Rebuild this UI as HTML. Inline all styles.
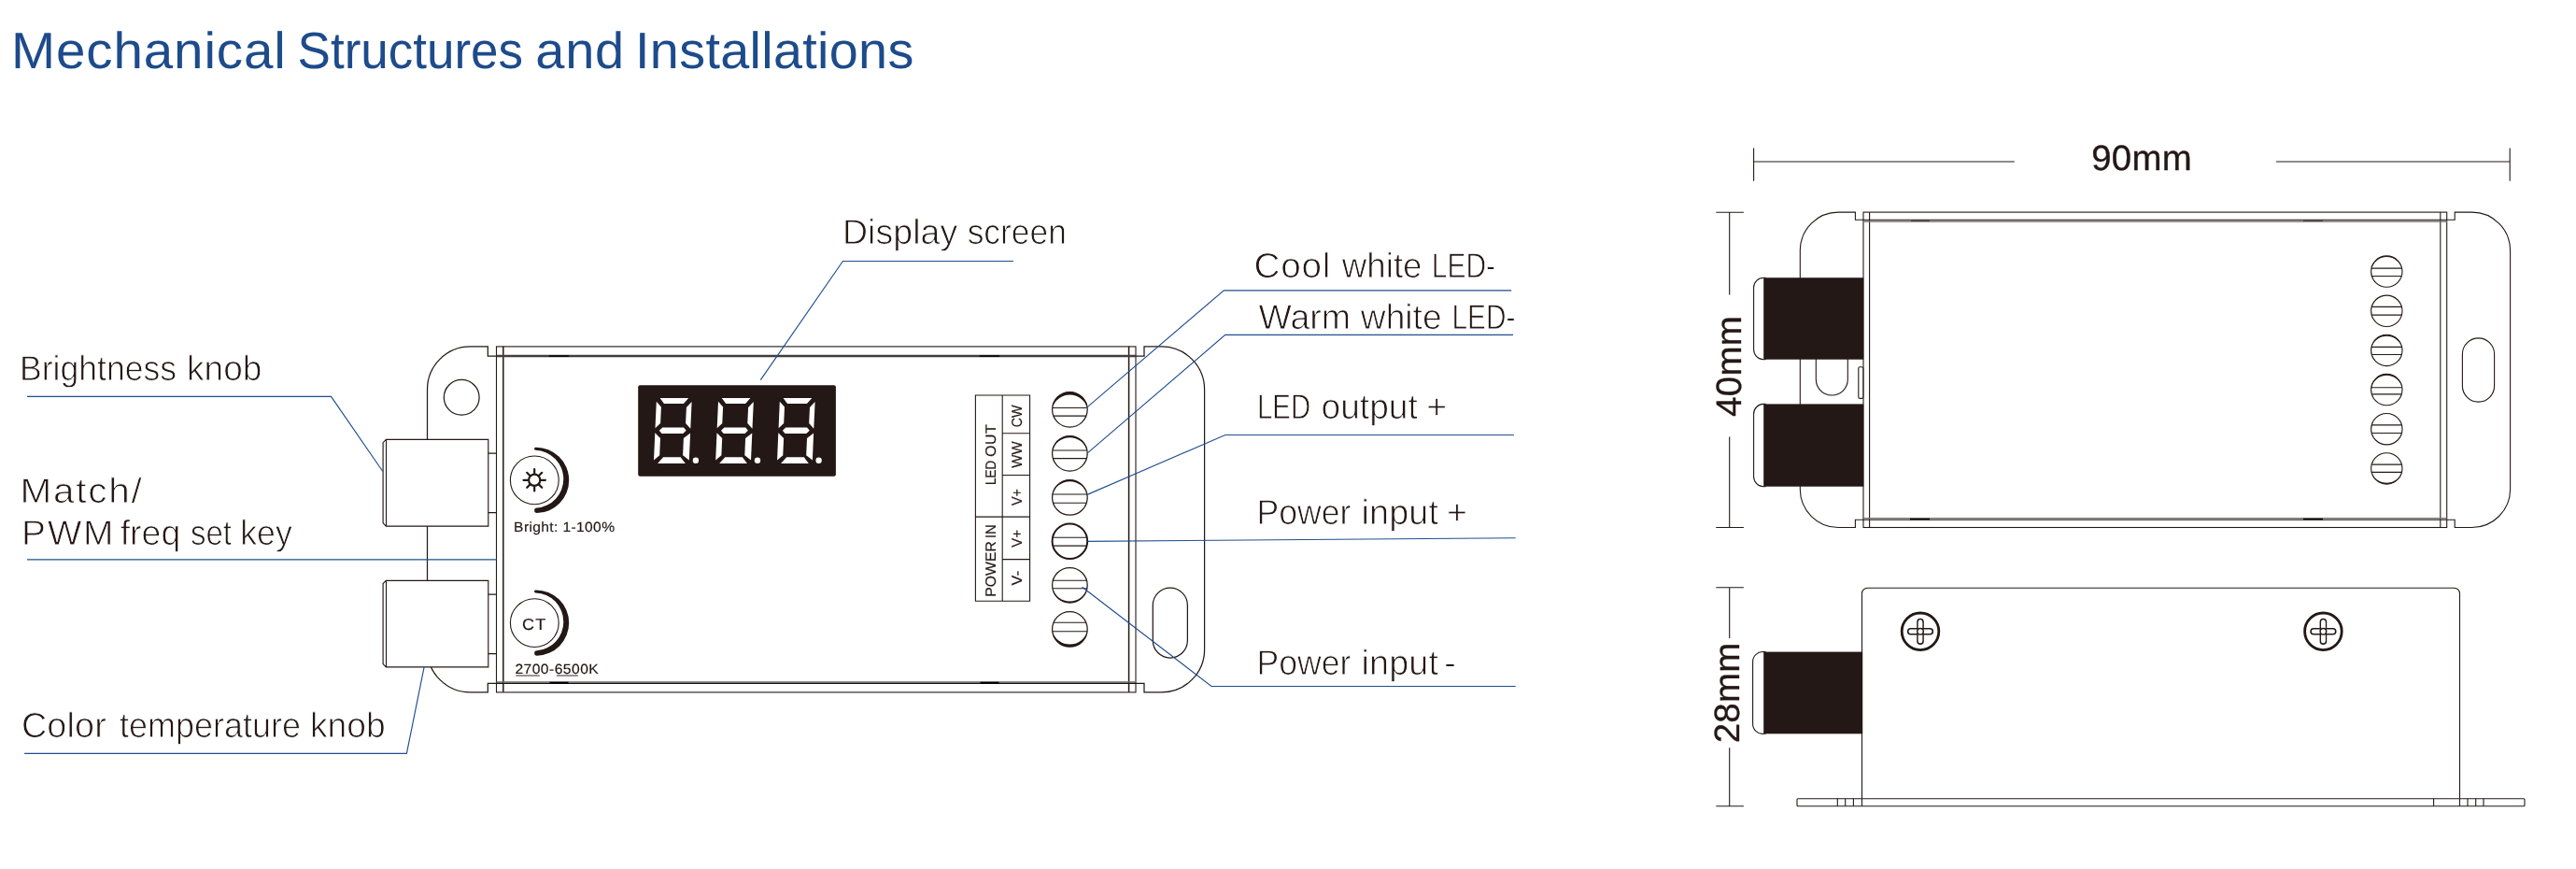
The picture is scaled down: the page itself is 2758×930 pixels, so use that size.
<!DOCTYPE html>
<html lang="en"><head><meta charset="utf-8"><title>Mechanical Structures and Installations</title>
<style>
html,body{margin:0;padding:0;background:#fff;}
body{width:2758px;height:930px;overflow:hidden;}
svg{display:block;}
text{font-family:"Liberation Sans",sans-serif;text-rendering:geometricPrecision;}
.ln{fill:none;stroke:#231815;stroke-width:1.25;}
.l1{fill:none;stroke:#231815;stroke-width:1.1;}
.l2{fill:none;stroke:#231815;stroke-width:1.9;}
.wf{fill:#fff;stroke:#231815;stroke-width:1.15;}
.bl{fill:none;stroke:#1f4e90;stroke-width:1.15;}
.lab{fill:#231815;stroke:#fff;stroke-width:0.85px;}
.sm{fill:#231815;stroke:#231815;stroke-width:0.18px;}
.dim{fill:#231815;stroke:#231815;stroke-width:0.35px;}
</style></head><body>
<svg width="2758" height="930" viewBox="0 0 2758 930">
<defs><filter id="n" x="0" y="0" width="2758" height="930" filterUnits="userSpaceOnUse"><feOffset dx="0" dy="0" color-interpolation-filters="sRGB"/></filter></defs>
<g filter="url(#n)">
<rect width="2758" height="930" fill="#fff"/>
<text transform="translate(16.70 73.40) scale(1.0285 1)" x="-4.54" y="0" font-size="55.00" letter-spacing="0.831" fill="#1d4b8b">Mechanical</text>
<text transform="translate(321.00 73.40) scale(0.9632 1)" x="-2.48" y="0" font-size="55.00" letter-spacing="0.000" fill="#1d4b8b">Structures</text>
<text transform="translate(575.70 73.40) scale(1.0172 1)" x="-2.34" y="0" font-size="55.00" letter-spacing="0.728" fill="#1d4b8b">and</text>
<text transform="translate(685.20 73.40) scale(1.0136 1)" x="-5.09" y="0" font-size="55.00" letter-spacing="0.317" fill="#1d4b8b">Installations</text>
<text class="lab" transform="translate(23.90 406.50) scale(0.9486 1)" x="-3.09" y="0" font-size="37.50" letter-spacing="0.000">Brightness</text>
<text class="lab" transform="translate(202.50 406.50) scale(0.9877 1)" x="-2.53" y="0" font-size="37.50" letter-spacing="0.000">knob</text>
<text class="lab" transform="translate(24.80 538.40) scale(1.0799 1)" x="-3.09" y="0" font-size="37.50" letter-spacing="1.620">Match/</text>
<text class="lab" transform="translate(26.30 582.80) scale(1.0380 1)" x="-3.09" y="0" font-size="37.50" letter-spacing="1.564">PWM</text>
<text class="lab" x="128.64" y="582.80" font-size="37.50" letter-spacing="0.000">freq</text>
<text class="lab" transform="translate(204.90 582.80) scale(0.8796 1)" x="-1.03" y="0" font-size="37.50" letter-spacing="0.000">set</text>
<text class="lab" transform="translate(259.60 582.80) scale(0.9517 1)" x="-2.53" y="0" font-size="37.50" letter-spacing="0.000">key</text>
<text class="lab" transform="translate(24.80 788.90) scale(1.0075 1)" x="-1.88" y="0" font-size="37.50" letter-spacing="0.163">Color</text>
<text class="lab" transform="translate(128.60 788.90) scale(0.9596 1)" x="-0.56" y="0" font-size="37.50" letter-spacing="0.000">temperature</text>
<text class="lab" transform="translate(334.50 788.90) scale(0.9929 1)" x="-2.53" y="0" font-size="37.50" letter-spacing="0.000">knob</text>
<text class="lab" x="901.91" y="260.90" font-size="37.50" letter-spacing="0.065">Display</text>
<text class="lab" transform="translate(1036.60 260.90) scale(0.9438 1)" x="-1.03" y="0" font-size="37.50" letter-spacing="0.000">screen</text>
<text class="lab" transform="translate(1344.40 296.70) scale(1.0320 1)" x="-1.88" y="0" font-size="37.50" letter-spacing="0.751">Cool</text>
<text class="lab" transform="translate(1436.80 296.70) scale(0.9793 1)" x="-0.00" y="0" font-size="37.50" letter-spacing="0.000">white</text>
<text class="lab" transform="translate(1535.20 296.70) scale(0.7988 1)" x="-3.09" y="0" font-size="37.50" letter-spacing="0.000">LED-</text>
<text class="lab" x="1347.51" y="351.70" font-size="37.50" letter-spacing="0.000">Warm</text>
<text class="lab" transform="translate(1456.80 351.70) scale(0.9910 1)" x="-0.00" y="0" font-size="37.50" letter-spacing="0.000">white</text>
<text class="lab" transform="translate(1556.90 351.70) scale(0.7950 1)" x="-3.09" y="0" font-size="37.50" letter-spacing="0.000">LED-</text>
<text class="lab" transform="translate(1348.40 448.30) scale(0.7846 1)" x="-3.09" y="0" font-size="37.50" letter-spacing="0.000">LED</text>
<text class="lab" transform="translate(1416.10 448.30) scale(0.9905 1)" x="-1.59" y="0" font-size="37.50" letter-spacing="0.000">output</text>
<text class="lab" x="1527.23" y="448.30" font-size="37.50" letter-spacing="0.000">+</text>
<text class="lab" transform="translate(1348.40 560.70) scale(0.9488 1)" x="-3.09" y="0" font-size="37.50" letter-spacing="0.000">Power</text>
<text class="lab" transform="translate(1460.10 560.70) scale(1.0066 1)" x="-2.53" y="0" font-size="37.50" letter-spacing="0.128">input</text>
<text class="lab" x="1548.93" y="560.70" font-size="37.50" letter-spacing="0.000">+</text>
<text class="lab" transform="translate(1348.40 722.30) scale(0.9488 1)" x="-3.09" y="0" font-size="37.50" letter-spacing="0.000">Power</text>
<text class="lab" transform="translate(1460.10 722.30) scale(1.0066 1)" x="-2.53" y="0" font-size="37.50" letter-spacing="0.128">input</text>
<text class="lab" x="1546.17" y="722.30" font-size="37.50" letter-spacing="0.000">-</text>
<path class="ln" d="M531.5 381H522.3V370.9H503.5A46 46 0 0 0 457.5 416.9V694.9A46 46 0 0 0 503.5 740.9H522.3V731.4H531.5"/>
<path class="ln" d="M1216 381H1225V370.9H1243.6A46 46 0 0 1 1289.6 416.9V694.9A46 46 0 0 1 1243.6 740.9H1225V731.4H1216"/>
<circle class="ln" cx="494.2" cy="425.3" r="18.9"/>
<rect class="ln" x="1234.3" y="629.2" width="37.1" height="74.8" rx="18.55"/>
<rect class="l1" x="531.5" y="370.9" width="684.5" height="370"/>
<path d="M538.8 370.8V740.8M1208.6 370.8V740.8" fill="none" stroke="#231815" stroke-width="1.5"/>
<path d="M531.5 381H1216" fill="none" stroke="#423e3d" stroke-width="2.7"/>
<path d="M531.5 730H1216" fill="none" stroke="#6e6a69" stroke-width="1.7"/>
<path d="M531.5 731.4H1216" fill="none" stroke="#1a1311" stroke-width="1.1"/>
<path d="M588.5 381H608.5M1049.5 381H1069.5" stroke="#000" stroke-width="1.7" stroke-linecap="round" fill="none"/>
<path d="M588.5 730.8H608.5M1049.5 730.8H1069.5" stroke="#000" stroke-width="1.9" fill="none"/>
<path class="wf" d="M413.4 470.4H522.8V563.1H413.4L410.1 559.8V473.7Z"/>
<path class="l1" d="M413.5 470.4V563.1"/>
<path class="ln" d="M522.8 485.1H531.5M522.8 548.6H531.5"/>
<path class="wf" d="M413.4 621.3H522.8V713.9H413.4L410.1 710.6V624.6Z"/>
<path class="l1" d="M413.5 621.3V713.9"/>
<path class="ln" d="M522.8 636.0H531.5M522.8 699.5H531.5"/>
<circle class="l1" cx="572.3" cy="513.9" r="25.9"/>
<path fill="#231815" d="M573.4 478.71A35.2 35.2 0 0 1 609.2 513.90A35.2 35.2 0 0 1 574.9 549.09A2.75 2.75 0 0 1 574.9 543.59A31 31 0 0 0 603.3 512.70A31 31 0 0 0 573.4 481.72A1.51 1.51 0 0 1 573.4 478.71Z"/>
<circle class="l1" cx="572.3" cy="666.6" r="25.9"/>
<path fill="#231815" d="M573.4 631.41A35.2 35.2 0 0 1 609.2 666.60A35.2 35.2 0 0 1 574.9 701.79A2.75 2.75 0 0 1 574.9 696.29A31 31 0 0 0 603.3 665.40A31 31 0 0 0 573.4 634.42A1.51 1.51 0 0 1 573.4 631.41Z"/>
<circle cx="572.2" cy="513.8" r="6.1" fill="none" stroke="#231815" stroke-width="2.2"/>
<path d="M579.40 513.80L583.90 513.80M577.29 518.89L580.19 521.79M572.20 521.00L572.20 525.50M567.11 518.89L564.21 521.79M565.00 513.80L560.50 513.80M567.11 508.71L564.21 505.81M572.20 506.60L572.20 502.10M577.29 508.71L580.19 505.81" fill="none" stroke="#231815" stroke-width="2.2" stroke-linecap="round"/>
<text class="sm" transform="translate(559.90 673.60) scale(1.0537 1)" x="-0.86" y="0" font-size="17.20" letter-spacing="1.105">CT</text>
<text class="sm" transform="translate(551.40 568.60) scale(1.0482 1)" x="-1.23" y="0" font-size="14.90" letter-spacing="0.342">Bright: 1-100%</text>
<text class="sm" transform="translate(552.20 720.60) scale(1.0506 1)" x="-0.75" y="0" font-size="14.90" letter-spacing="0.430">2700-6500K</text>
<path d="M552.2 723H577.8M595.9 723H618.9" fill="none" stroke="#77706d" stroke-width="1.6"/>
<rect x="683.2" y="412.3" width="211.7" height="97.5" rx="2" fill="#231815"/>
<polygon fill="#fff" points="706.6,425.9 737.2,425.9 731.9,432.0 711.0,432.0"/>
<polygon fill="#fff" points="702.8,429.7 707.9,435.4 707.1,453.1 701.5,458.2"/>
<polygon fill="#fff" points="740.6,430.1 739.3,458.8 734.1,453.1 734.9,436.0"/>
<polygon fill="#fff" points="705.8,460.7 709.3,457.5 732.0,457.5 734.7,460.7 731.3,463.9 708.5,463.9"/>
<polygon fill="#fff" points="701.3,463.2 707.0,468.9 706.2,487.3 700.0,492.4"/>
<polygon fill="#fff" points="739.1,463.5 737.8,492.4 731.1,487.3 731.9,468.9"/>
<polygon fill="#fff" points="704.1,495.9 733.8,495.9 728.7,489.2 710.1,489.2"/>
<circle cx="744.9" cy="492.7" r="3.2" fill="#fff"/>
<polygon fill="#fff" points="772.8,425.9 803.4,425.9 798.1,432.0 777.2,432.0"/>
<polygon fill="#fff" points="769.0,429.7 774.1,435.4 773.3,453.1 767.7,458.2"/>
<polygon fill="#fff" points="806.8,430.1 805.5,458.8 800.3,453.1 801.1,436.0"/>
<polygon fill="#fff" points="772.0,460.7 775.5,457.5 798.2,457.5 800.9,460.7 797.5,463.9 774.7,463.9"/>
<polygon fill="#fff" points="767.5,463.2 773.2,468.9 772.4,487.3 766.2,492.4"/>
<polygon fill="#fff" points="805.3,463.5 804.0,492.4 797.3,487.3 798.1,468.9"/>
<polygon fill="#fff" points="770.2,495.9 799.9,495.9 794.9,489.2 776.3,489.2"/>
<circle cx="811.0" cy="492.7" r="3.2" fill="#fff"/>
<polygon fill="#fff" points="838.6,425.9 869.3,425.9 863.9,432.0 843.0,432.0"/>
<polygon fill="#fff" points="834.8,429.7 840.0,435.4 839.2,453.1 833.6,458.2"/>
<polygon fill="#fff" points="872.6,430.1 871.3,458.8 866.2,453.1 867.0,436.0"/>
<polygon fill="#fff" points="837.9,460.7 841.3,457.5 864.0,457.5 866.8,460.7 863.3,463.9 840.5,463.9"/>
<polygon fill="#fff" points="833.3,463.2 839.1,468.9 838.3,487.3 832.1,492.4"/>
<polygon fill="#fff" points="871.1,463.5 869.9,492.4 863.2,487.3 864.0,468.9"/>
<polygon fill="#fff" points="836.1,495.9 865.8,495.9 860.8,489.2 842.2,489.2"/>
<circle cx="876.6" cy="492.7" r="3.2" fill="#fff"/>
<path class="l1" d="M1044.4 423H1102.6V643.2H1044.4ZM1073.2 423V643.2M1073.2 463.8H1102.6M1073.2 508.5H1102.6M1044.4 553.1H1102.6M1073.2 598.6H1102.6"/>
<text class="sm" transform="translate(1066.00 518.00) rotate(-90) scale(0.8653 1)" x="-1.29" y="0" font-size="15.60" letter-spacing="0.000">LED</text>
<text class="sm" transform="translate(1066.00 488.30) rotate(-90) scale(1.0295 1)" x="-0.74" y="0" font-size="15.60" letter-spacing="0.456">OUT</text>
<text class="sm" transform="translate(1066.00 637.50) rotate(-90) scale(1.0061 1)" x="-1.29" y="0" font-size="15.60" letter-spacing="0.087">POWER</text>
<text class="sm" transform="translate(1066.00 574.70) rotate(-90) scale(0.9402 1)" x="-1.44" y="0" font-size="15.60" letter-spacing="0.000">IN</text>
<text class="sm" transform="translate(1093.90 456.60) rotate(-90) scale(0.9143 1)" x="-0.78" y="0" font-size="15.60" letter-spacing="0.000">CW</text>
<text class="sm" transform="translate(1093.90 500.70) rotate(-90) scale(0.9615 1)" x="-0.08" y="0" font-size="15.60" letter-spacing="0.000">WW</text>
<text class="sm" transform="translate(1093.90 541.00) rotate(-90) scale(0.9261 1)" x="-0.08" y="0" font-size="15.60" letter-spacing="0.000">V+</text>
<text class="sm" transform="translate(1093.90 585.60) rotate(-90) scale(0.9528 1)" x="-0.08" y="0" font-size="15.60" letter-spacing="0.000">V+</text>
<text class="sm" transform="translate(1093.90 626.50) rotate(-90) scale(1.0336 1)" x="-0.08" y="0" font-size="15.60" letter-spacing="0.454">V-</text>
<circle class="ln" cx="1145.4" cy="438.3" r="18.8"/>
<path class="l1" d="M1126.7 436.5H1164.1"/>
<path class="l1" d="M1127.9 445.1H1162.9"/>
<path fill="#231815" d="M1126.69 436.50A18.80 18.80 0 0 1 1164.11 436.50A19.51 19.51 0 0 0 1126.69 436.50Z"/>
<circle class="ln" cx="1145.4" cy="485.3" r="18.8"/>
<path class="l1" d="M1126.9 482.0H1163.9"/>
<path class="l1" d="M1127.4 490.6H1163.4"/>
<path fill="#231815" d="M1126.89 482.00A18.80 18.80 0 0 1 1163.91 482.00A19.31 19.31 0 0 0 1126.89 482.00Z"/>
<circle class="ln" cx="1145.4" cy="532.4" r="18.8"/>
<path class="l1" d="M1126.9 529.0H1163.9"/>
<path class="l1" d="M1127.5 538.3H1163.3"/>
<path fill="#231815" d="M1126.91 529.00A18.80 18.80 0 0 1 1163.89 529.00A19.29 19.29 0 0 0 1126.91 529.00Z"/>
<circle class="ln" style="stroke-width:2.00" cx="1145.4" cy="579.2" r="18.8"/>
<path class="l1" d="M1127.0 575.3H1163.8"/>
<path class="l1" d="M1127.2 584.1H1163.6"/>
<circle class="ln" cx="1145.4" cy="626.3" r="18.8"/>
<path class="l1" d="M1127.3 621.2H1163.5"/>
<path class="l1" d="M1126.9 629.7H1163.9"/>
<path fill="#231815" d="M1126.91 629.70A18.80 18.80 0 0 0 1163.89 629.70A19.29 19.29 0 0 1 1126.91 629.70Z"/>
<circle class="ln" cx="1145.4" cy="673.4" r="18.8"/>
<path class="l1" d="M1128.0 666.2H1162.8"/>
<path class="l1" d="M1126.7 675.7H1164.1"/>
<path fill="#231815" d="M1126.74 675.70A18.80 18.80 0 0 0 1164.06 675.70A19.47 19.47 0 0 1 1126.74 675.70Z"/>
<path class="bl" d="M1085 279.5H902.4L814.3 406.6"/>
<path class="bl" d="M29 424.4H354.5L409.8 504.5"/>
<path class="bl" d="M29 598.9H531.5"/>
<path class="bl" d="M26.1 806.4H435.4L454.1 713.8"/>
<path class="bl" d="M1618.2 310.8H1310.3L1163 436.6"/>
<path class="bl" d="M1620 358.4H1311.8L1164 485.1"/>
<path class="bl" d="M1620.9 465.5H1311.8L1164 529.4"/>
<path class="bl" d="M1622.7 575.7L1164.6 579.4"/>
<path class="bl" d="M1622.7 734.5H1297L1158.6 628.3"/>
<path class="l1" d="M1995 235.3H1986.4V227.1H1968.4A41 41 0 0 0 1927.3 268.1V523.5A41 41 0 0 0 1968.4 564.5H1986.4V556.3H1995"/>
<path class="l1" d="M2619.7 235.3H2628.2V227.1H2646.6A41 41 0 0 1 2687.6 268.1V523.5A41 41 0 0 1 2646.6 564.5H2628.2V556.3H2619.7"/>
<rect class="l1" x="1944.3" y="350" width="34" height="73" rx="17"/>
<rect class="l1" x="2636.4" y="361.9" width="34.2" height="68.2" rx="17.1"/>
<rect class="l1" x="1995" y="227.1" width="624.7" height="337.4"/>
<path class="l1" d="M2001.6 227.1V564.5M2612.8 227.1V564.5"/>
<path d="M1994.7 235.3H2619.7M1994.7 556.3H2619.7" fill="none" stroke="#1a1311" stroke-width="1.1"/>
<path d="M1994.7 236.9H2619.7M1994.7 554.8H2619.7" fill="none" stroke="#75706f" stroke-width="1.5"/>
<path d="M2046 236.2H2066M2466 236.2H2487" stroke="#1a1311" stroke-width="0.7" fill="none"/>
<path d="M2045 555.6H2066M2466 555.6H2487" stroke="#1a1311" stroke-width="1.8" fill="none"/>
<rect x="1989.8" y="392.7" width="5" height="33.7" rx="1.5" fill="#fff" stroke="#231815" stroke-width="1.1"/>
<path d="M1890 297.2H1888.2A10.6 10.6 0 0 0 1877.6 307.8V374.1A10.6 10.6 0 0 0 1888.2 384.7H1890Z" fill="#fff" stroke="#231815" stroke-width="1.1"/>
<rect x="1888.2" y="297.2" width="107" height="87.5" fill="#231815"/>
<path d="M1890 432.4H1888.2A10.6 10.6 0 0 0 1877.6 443.0V510.1A10.6 10.6 0 0 0 1888.2 520.7H1890Z" fill="#fff" stroke="#231815" stroke-width="1.1"/>
<rect x="1888.2" y="432.4" width="107" height="88.3" fill="#231815"/>
<circle class="l1" cx="2555.3" cy="290.6" r="16.7"/>
<path class="l1" d="M2539.0 287.1H2571.6"/>
<path class="l1" d="M2539.3 295.5H2571.3"/>
<path fill="#231815" d="M2538.97 287.10A16.70 16.70 0 0 1 2571.63 287.10A17.11 17.11 0 0 0 2538.97 287.10Z"/>
<circle class="l1" cx="2555.3" cy="332.8" r="16.7"/>
<path class="l1" d="M2539.2 328.4H2571.4"/>
<path class="l1" d="M2539.2 337.1H2571.4"/>
<circle class="l1" cx="2555.3" cy="374.9" r="16.7"/>
<path class="l1" d="M2539.0 371.4H2571.6"/>
<path class="l1" d="M2539.2 379.5H2571.4"/>
<path fill="#231815" d="M2538.97 371.40A16.70 16.70 0 0 1 2571.63 371.40A17.24 17.24 0 0 0 2538.97 371.40Z"/>
<circle class="l1" cx="2555.3" cy="417.1" r="16.7"/>
<path class="l1" d="M2538.8 414.8H2571.8"/>
<path class="l1" d="M2539.3 421.9H2571.3"/>
<path fill="#231815" d="M2538.76 414.75A16.70 16.70 0 0 1 2571.84 414.75A17.05 17.05 0 0 0 2538.76 414.75Z"/>
<circle class="l1" cx="2555.3" cy="459.2" r="16.7"/>
<path class="l1" d="M2539.2 454.9H2571.4"/>
<path class="l1" d="M2539.2 463.5H2571.4"/>
<circle class="l1" cx="2555.3" cy="501.4" r="16.7"/>
<path class="l1" d="M2539.2 497.1H2571.4"/>
<path class="l1" d="M2539.1 505.4H2571.5"/>
<path fill="#231815" d="M2539.09 505.35A16.70 16.70 0 0 0 2571.51 505.35A17.18 17.18 0 0 1 2539.09 505.35Z"/>
<path class="l1" d="M1993.5 854.7V635.2A6 6 0 0 1 1999.5 629.2H2627.5A6 6 0 0 1 2633.5 635.2V854.7"/>
<rect class="l1" x="1924" y="854.7" width="779" height="8" rx="1"/>
<path class="l1" d="M1967.3 854.7V862.7M1975.7 854.7V862.7M1984.4 854.7V862.7M1993.5 854.7V862.7M2605.6 854.7V862.7M2633.5 854.7V862.7M2642 854.7V862.7M2650.7 854.7V862.7M2659 854.7V862.7"/>
<path d="M1890 697.6H1888.2A10.6 10.6 0 0 0 1876.6 708.2V774.7A10.6 10.6 0 0 0 1888.2 785.3H1890Z" fill="#fff" stroke="#231815" stroke-width="1.1"/>
<rect x="1888.2" y="697.6" width="106" height="87.7" fill="#231815"/>
<circle cx="2056.0" cy="675.8" r="19.8" fill="none" stroke="#231815" stroke-width="2.8"/>
<rect x="2053.00" y="662.45" width="6" height="26.7" rx="3" fill="#fff" stroke="#231815" stroke-width="1.6"/>
<rect x="2042.65" y="672.80" width="26.7" height="6" rx="3" fill="#fff" stroke="#231815" stroke-width="1.6"/>
<rect x="2053.80" y="663.80" width="4.4" height="24" rx="2.2" fill="#fff"/>
<circle cx="2056.0" cy="675.8" r="3.3" fill="#fff" stroke="#231815" stroke-width="1.5"/>
<circle cx="2487.4" cy="675.8" r="19.8" fill="none" stroke="#231815" stroke-width="2.8"/>
<rect x="2484.40" y="662.45" width="6" height="26.7" rx="3" fill="#fff" stroke="#231815" stroke-width="1.6"/>
<rect x="2474.05" y="672.80" width="26.7" height="6" rx="3" fill="#fff" stroke="#231815" stroke-width="1.6"/>
<rect x="2485.20" y="663.80" width="4.4" height="24" rx="2.2" fill="#fff"/>
<circle cx="2487.4" cy="675.8" r="3.3" fill="#fff" stroke="#231815" stroke-width="1.5"/>
<path class="l1" d="M1877.6 158.5V193.7M2687.2 158.5V193.7M1877.6 173H2156.8M2437 173H2687.2"/>
<text class="dim" transform="translate(2241.00 182.30) scale(1.0090 1)" x="-1.80" y="0" font-size="38.00" letter-spacing="0.302">90mm</text>
<path class="l1" d="M1837.3 227.3H1866.9M1837.3 564.5H1866.9M1851.7 227.3V315.6M1851.7 467.5V564.5"/>
<text class="dim" transform="translate(1863.70 445.20) rotate(-90) scale(1.0112 1)" x="-0.85" y="0" font-size="38.00" letter-spacing="0.376">40mm</text>
<path class="l1" d="M1837.3 628.8H1866.9M1837.3 862.7H1866.9M1851.7 628.8V683M1851.7 800.2V862.7"/>
<text class="dim" transform="translate(1862.40 793.40) rotate(-90) scale(1.0100 1)" x="-1.90" y="0" font-size="38.00" letter-spacing="0.334">28mm</text>
</g>
</svg>
</body></html>
